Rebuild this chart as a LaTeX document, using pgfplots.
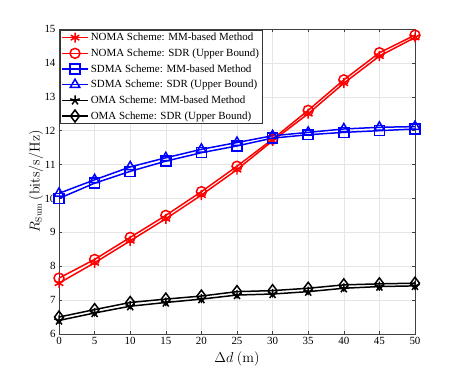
\documentclass[border=0pt]{standalone}
\usepackage[no-math]{fontspec}
\setmainfont{Liberation Serif}
\usepackage{pgfplots}
\pgfplotsset{compat=1.18}
\begin{document}
\begin{tikzpicture}
\path[use as bounding box] (-59bp,-42bp) rectangle (399bp,334bp);
\begin{axis}[
    scale only axis,
    width=356bp, height=305bp,
    xmin=0, xmax=50, ymin=6, ymax=15,
    xtick={0,5,...,50}, ytick={6,7,...,15},
    tick align=inside,
    major tick length=3.5pt,
    xmajorgrids, ymajorgrids,
    grid style={gray!20, line width=0.5pt},
    axis line style={black!75, line width=0.6pt},
    every tick/.style={black!75},
    tick label style={font=\fontsize{11}{13}\selectfont},
    /pgf/number format/assume math mode=true,
    xlabel={$\Delta d\ (\mathrm{m})$},
    ylabel={$R_{\mathrm{Sum}}\ (\mathrm{bits/s/Hz})$},
    label style={font=\fontsize{13.5}{15}\selectfont},
    xlabel style={yshift=0pt},
    ylabel style={yshift=-5.5pt},
    legend style={font=\fontsize{11}{13}\selectfont, draw=black!80, fill=white,
        row sep=2.6pt, inner sep=1pt, at={(0.003,0.997)}, anchor=north west},
    legend cell align=left,
    legend image code/.code={
        \draw[#1, mark=none] (0bp,0bp) -- (26bp,0bp);
        \draw[#1, only marks] plot coordinates {(13bp,0bp)};},
    every axis plot/.append style={line width=1.5pt, mark size=5pt, mark options={solid, fill=none}},
]
\addplot[red, mark=asterisk] coordinates {(0,7.5) (5,8.1) (10,8.75) (15,9.4) (20,10.1) (25,10.85) (30,11.7) (35,12.5) (40,13.4) (45,14.2) (50,14.75)};
\addlegendentry{NOMA Scheme: MM-based Method}
\addplot[red, mark=o] coordinates {(0,7.65) (5,8.2) (10,8.85) (15,9.5) (20,10.2) (25,10.95) (30,11.75) (35,12.6) (40,13.5) (45,14.3) (50,14.82)};
\addlegendentry{NOMA Scheme: SDR (Upper Bound)}
\addplot[blue, mark=square] coordinates {(0,10.0) (5,10.45) (10,10.8) (15,11.1) (20,11.35) (25,11.55) (30,11.78) (35,11.88) (40,11.95) (45,12.0) (50,12.05)};
\addlegendentry{SDMA Scheme: MM-based Method}
\addplot[blue, mark=triangle, mark size=5.5pt] coordinates {(0,10.15) (5,10.55) (10,10.93) (15,11.2) (20,11.45) (25,11.65) (30,11.85) (35,11.95) (40,12.05) (45,12.1) (50,12.12)};
\addlegendentry{SDMA Scheme: SDR (Upper Bound)}
\addplot[black, mark=star, mark size=5pt] coordinates {(0,6.4) (5,6.62) (10,6.82) (15,6.93) (20,7.03) (25,7.15) (30,7.18) (35,7.25) (40,7.35) (45,7.4) (50,7.42)};
\addlegendentry{OMA Scheme: MM-based Method}
\addplot[black, mark=diamond, mark size=6pt] coordinates {(0,6.5) (5,6.72) (10,6.93) (15,7.03) (20,7.12) (25,7.25) (30,7.28) (35,7.35) (40,7.45) (45,7.48) (50,7.5)};
\addlegendentry{OMA Scheme: SDR (Upper Bound)}
\end{axis}
\end{tikzpicture}
\end{document}
